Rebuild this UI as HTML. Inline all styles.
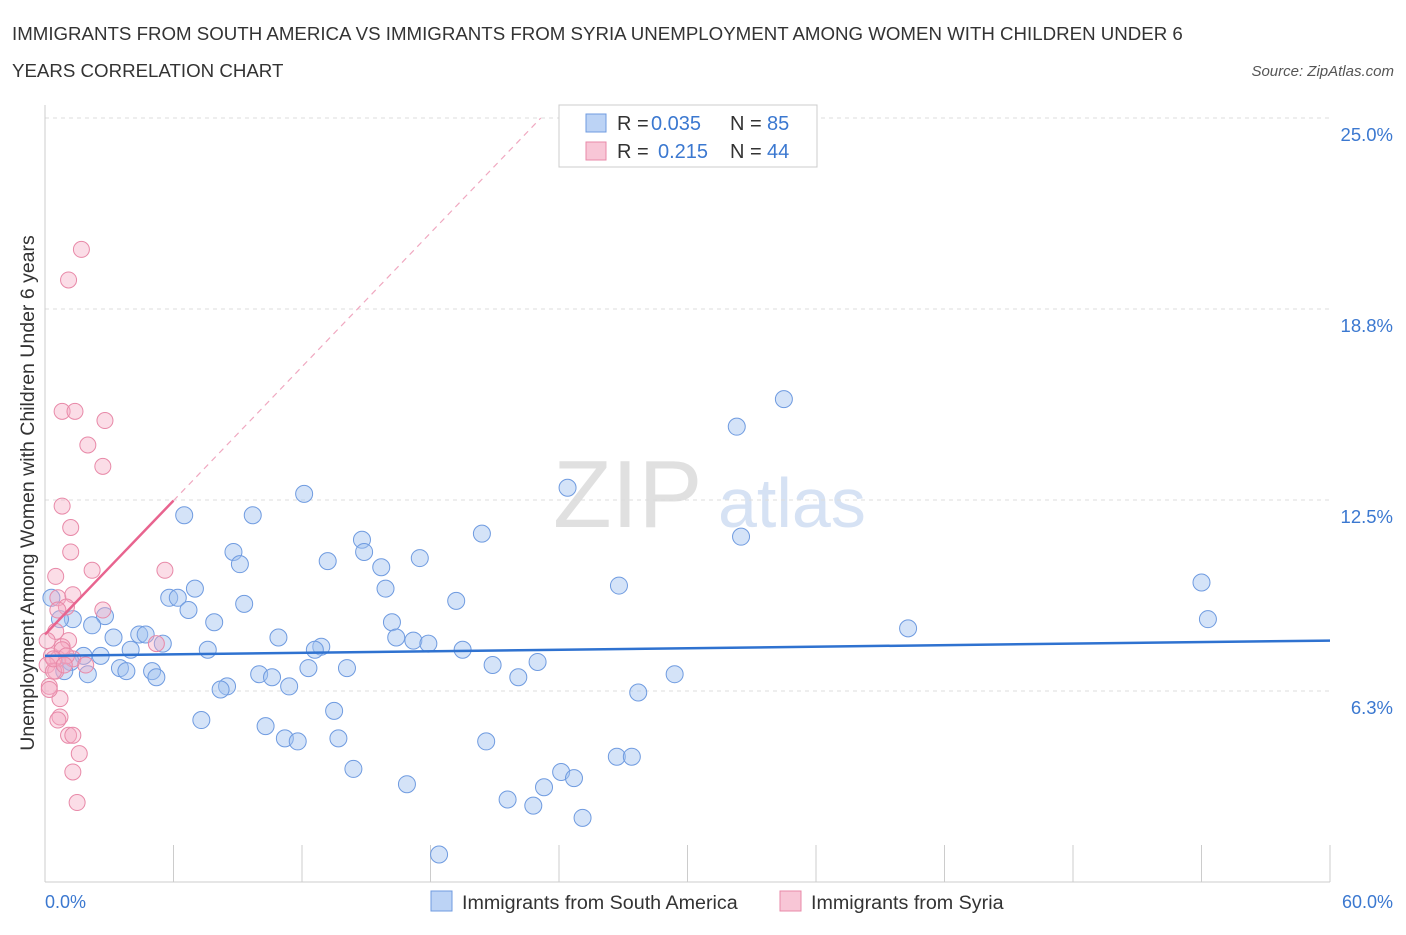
<!DOCTYPE html>
<html><head><meta charset="utf-8">
<style>
body{margin:0;background:#fff;font-family:"Liberation Sans",sans-serif;}
svg text{font-family:"Liberation Sans",sans-serif;}
</style></head>
<body>
<svg id="chart" width="1406" height="930" xmlns="http://www.w3.org/2000/svg">
<text x="12" y="40" font-size="18.7" fill="#333">IMMIGRANTS FROM SOUTH AMERICA VS IMMIGRANTS FROM SYRIA UNEMPLOYMENT AMONG WOMEN WITH CHILDREN UNDER 6</text>
<text x="12" y="77" font-size="18.7" fill="#333">YEARS CORRELATION CHART</text>
<text x="1394" y="76" font-size="15" fill="#555" text-anchor="end" font-style="italic">Source: ZipAtlas.com</text>
<text x="553" y="527" font-size="96" fill="#e0e0e0" font-family="Liberation Serif">ZIP</text>
<text x="718" y="527" font-size="70" fill="#d6e2f4">atlas</text>
<g id="grid"></g>
<g id="marks"></g>
<text transform="translate(34,493) rotate(-90)" font-size="19.5" fill="#333" text-anchor="middle">Unemployment Among Women with Children Under 6 years</text>
<text x="45" y="908" font-size="18" fill="#3b78d0">0.0%</text>
<text x="1393" y="908" font-size="18" fill="#3b78d0" text-anchor="end">60.0%</text>
<g>
<rect x="559" y="105" width="258" height="62" fill="#fff" stroke="#ccc"/>
<rect x="586" y="114" width="20" height="18" fill="#bcd3f5" stroke="#6f9be0"/>
<rect x="586" y="142" width="20" height="18" fill="#f8c6d6" stroke="#e889a8"/>
<text x="617" y="130" font-size="20" fill="#333">R =</text>
<text x="651" y="130" font-size="20" fill="#3b78d0">0.035</text>
<text x="730" y="130" font-size="20" fill="#333">N =</text>
<text x="767" y="130" font-size="20" fill="#3b78d0">85</text>
<text x="617" y="158" font-size="20" fill="#333">R =</text>
<text x="658" y="158" font-size="20" fill="#3b78d0">0.215</text>
<text x="730" y="158" font-size="20" fill="#333">N =</text>
<text x="767" y="158" font-size="20" fill="#3b78d0">44</text>
</g>
<g>
<rect x="431" y="891" width="21" height="20" fill="#bcd3f5" stroke="#6f9be0"/>
<text x="462" y="909" font-size="19.7" fill="#333">Immigrants from South America</text>
<rect x="780" y="891" width="21" height="20" fill="#f8c6d6" stroke="#e889a8"/>
<text x="811" y="909" font-size="19.7" fill="#333">Immigrants from Syria</text>
</g>
</svg>
<script>
const yTicks=[6.25,12.5,18.75,25];
const yTickLabels=["6.3%","12.5%","18.8%","25.0%"];
const blueX=[34.5,32.3,24.4,32.5,20.4,12.1,6.5,9.7,14.8,14.9,8.8,9.1,13.2,17.5,15.7,54.0,54.3,40.3,26.8,15.9,7.0,5.8,6.2,19.2,9.3,6.7,2.8,7.9,2.2,1.3,16.2,4.4,4.7,3.2,5.5,10.9,16.4,17.2,17.9,12.9,12.6,19.5,7.6,4.0,2.6,1.8,1.2,3.5,3.8,5.0,5.2,10.0,10.6,14.1,12.3,20.9,23.0,22.1,29.4,2.0,8.5,8.2,11.4,27.7,13.5,7.3,10.3,11.2,11.8,13.7,20.6,14.4,24.1,24.7,26.7,27.4,16.9,23.3,21.6,22.8,25.1,18.4,0.7,0.3,0.9];
const blueY=[15.8,14.9,12.9,11.3,11.4,12.7,12.0,12.0,11.2,10.8,10.8,10.4,10.5,10.6,10.3,9.8,8.6,8.3,9.7,9.6,9.6,9.3,9.3,9.2,9.1,8.9,8.7,8.5,8.4,8.6,8.5,8.1,8.1,8.0,7.8,8.0,8.0,7.9,7.8,7.7,7.6,7.6,7.6,7.6,7.4,7.4,7.2,7.0,6.9,6.9,6.7,6.8,6.7,7.0,7.0,7.1,7.2,6.7,6.8,6.8,6.4,6.3,6.4,6.2,5.6,5.3,5.1,4.7,4.6,4.7,4.6,3.7,3.6,3.4,4.1,4.1,3.2,3.1,2.7,2.5,2.1,0.9,8.6,9.3,6.9];
const pinkX=[1.7,1.1,0.8,1.4,2.8,2.0,2.7,0.8,1.2,1.2,2.2,5.6,0.5,0.6,1.3,1.0,2.7,5.2,0.5,1.1,0.3,0.8,0.6,1.3,0.1,1.9,0.7,0.7,0.6,1.1,1.3,1.6,1.3,1.5,0.2,0.5,0.8,1.0,0.1,0.4,0.6,0.2,0.4,0.9];
const pinkY=[20.7,19.7,15.4,15.4,15.1,14.3,13.6,12.3,11.6,10.8,10.2,10.2,10.0,9.3,9.4,9.0,8.9,7.8,8.2,7.9,7.4,7.7,7.3,7.3,7.1,7.1,6.0,5.4,5.3,4.8,4.8,4.2,3.6,2.6,6.4,6.9,7.6,7.4,7.9,6.9,8.9,6.3,7.3,7.1];
const blueTrend=[7.4,7.9];
const pinkTrend=[8.1,0.73];
const NS="http://www.w3.org/2000/svg";
const X=v=>45+v/60*1285;
const Y=v=>882-v*30.56;
function mk(t,a,p){const e=document.createElementNS(NS,t);for(const k in a)e.setAttribute(k,a[k]);p.appendChild(e);return e;}
const grid=document.getElementById('grid'),marks=document.getElementById('marks');
yTicks.forEach((t,i)=>{
 const l=mk('line',{x1:45,x2:1330,y1:Y(t),y2:Y(t),stroke:'#ddd','stroke-dasharray':'4,4'},grid);
 
 
 const tx=mk('text',{x:1393,y:Y(t)+23,'font-size':18.5,fill:'#3b78d0','text-anchor':'end'},grid);
 tx.textContent=yTickLabels[i];
 
 
});
const ax=mk('line',{x1:45,x2:1330,y1:882,y2:882,stroke:'#ccc'},grid);


const ay=mk('line',{x1:45,x2:45,y1:105,y2:882,stroke:'#ccc'},grid);


for(let i=1;i<=10;i++){
 const t=mk('line',{x1:X(i*6),x2:X(i*6),y1:845,y2:882,stroke:'#ccc'},grid);
 
 
}
blueX.forEach((x,i)=>{
 const c=mk('circle',{cx:X(x),cy:Y(blueY[i]),r:8.5,fill:'rgba(160,192,240,0.45)',stroke:'#6f9be0','stroke-width':1},marks);
 
 
});
pinkX.forEach((x,i)=>{
 const c=mk('circle',{cx:X(x),cy:Y(pinkY[i]),r:8,fill:'rgba(244,170,196,0.4)',stroke:'#e889a8','stroke-width':1},marks);
 
 
});
const bl=mk('line',{x1:X(0),y1:Y(blueTrend[0]),x2:X(60),y2:Y(blueTrend[1]),stroke:'#2f72d0','stroke-width':2.5},marks);


const pl=mk('line',{x1:X(0),y1:Y(pinkTrend[0]),x2:X(6),y2:Y(pinkTrend[0]+pinkTrend[1]*6),stroke:'#e8648f','stroke-width':2.5},marks);


const xe=(25-pinkTrend[0])/pinkTrend[1];
const pd=mk('line',{x1:X(6),y1:Y(pinkTrend[0]+pinkTrend[1]*6),x2:X(xe),y2:Y(25),stroke:'#f0a8c0','stroke-width':1.2,'stroke-dasharray':'6,5'},marks);


</script>
</body></html>
